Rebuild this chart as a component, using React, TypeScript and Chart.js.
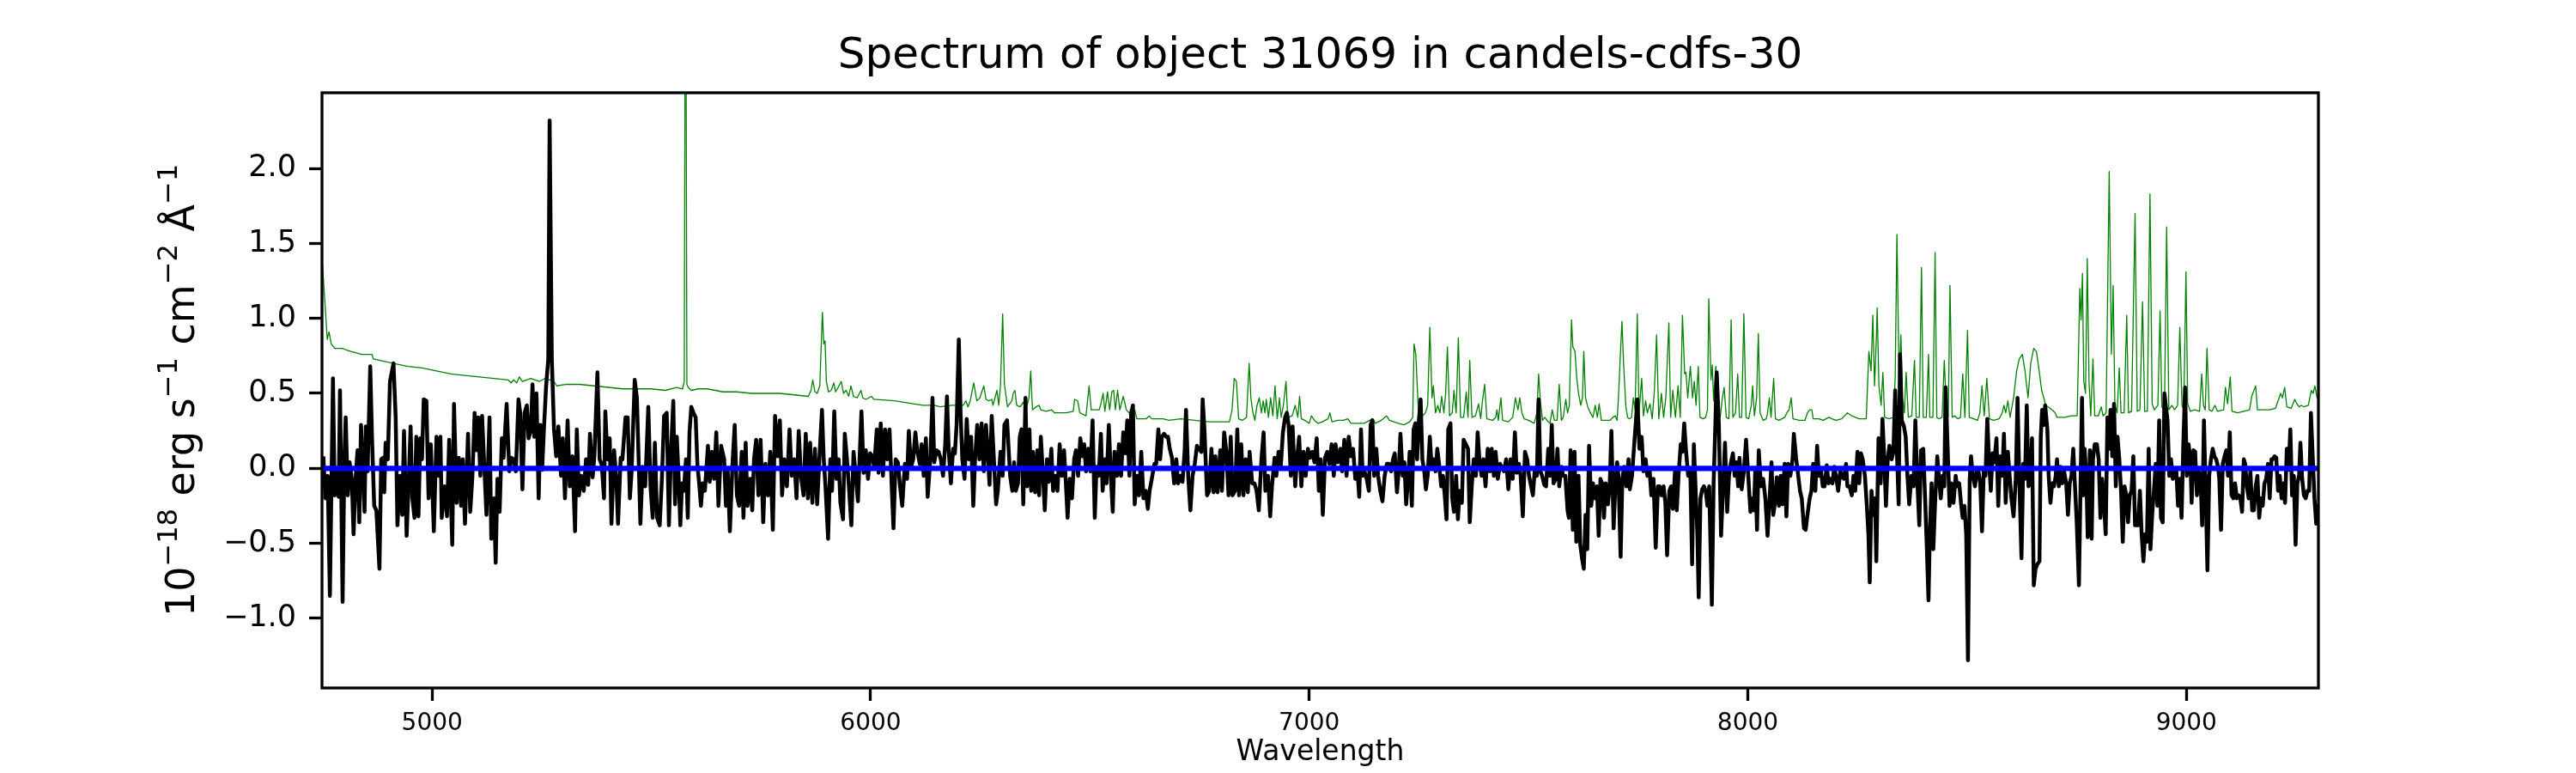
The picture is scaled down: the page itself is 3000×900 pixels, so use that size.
import React, { useEffect, useRef } from 'react';
import { Chart, registerables } from 'chart.js';

Chart.register(...registerables);

const FONT = "'DejaVu Sans', 'Liberation Sans', sans-serif";

const TITLE = 'Spectrum of object 31069 in candels-cdfs-30';
const X_LABEL = 'Wavelength';
// y label as (text, isSuperscript) runs: 10^-18 erg s^-1 cm^-2 Å^-1
const Y_LABEL_PARTS: [string, boolean][] = [
  ['10', false], ['\u221218', true], [' erg s', false], ['\u22121', true],
  [' cm', false], ['\u22122', true], [' \u00C5', false], ['\u22121', true],
];

const X_MIN = 4749;
const X_MAX = 9301;
const Y_MIN = -1.465;
const Y_MAX = 2.505;

const X_TICKS = [5000, 6000, 7000, 8000, 9000];
const Y_TICKS = [-1.0, -0.5, 0.0, 0.5, 1.0, 1.5, 2.0];

// Observed flux (black), [wavelength, flux]
const fluxBlue: [number, number][] = [
  [4752,0.08],[4757,-0.20],[4762,-0.05],[4767,-0.85],[4774,0.60],[4778,-0.18],[4783,-0.02],[4787,-0.19],[4790,0.52],[4796,-0.89],
  [4800,0.06],[4803,0.34],[4808,-0.18],[4812,0.04],[4817,-0.07],[4821,-0.44],[4826,-0.05],[4830,0.12],[4834,-0.36],[4838,0.29],
  [4842,-0.01],[4846,-0.29],[4849,0.28],[4853,-0.02],[4859,0.68],[4863,0.21],[4868,-0.25],[4873,-0.28],[4880,-0.67],[4884,0.06],
  [4888,0.07],[4891,-0.16],[4894,0.17],[4899,0.06],[4904,0.58],[4912,0.70],[4917,0.34],[4921,-0.38],[4927,-0.05],[4932,-0.31],
  [4936,0.25],[4942,-0.45],[4947,-0.07],[4951,0.28],[4955,-0.20],[4960,-0.33],[4964,0.21],[4969,-0.32],[4973,0.20],[4977,0.06],
  [4981,0.46],[4987,0.45],[4992,-0.20],[4997,0.16],[5004,-0.42],[5010,0.21],[5015,-0.05],[5019,0.21],[5022,-0.33],[5028,-0.12],
  [5034,-0.32],[5039,0.19],[5046,-0.51],[5050,0.43],[5056,-0.23],[5061,0.07],[5066,-0.25],[5070,0.06],[5075,-0.37],[5082,0.23],
  [5087,-0.29],[5092,-0.05],[5097,0.37],[5101,0.12],[5105,0.34],[5110,-0.05],[5114,0.35],[5120,-0.05],[5124,-0.31],[5131,0.34],
  [5135,-0.47],[5141,-0.20],[5145,-0.63],[5149,-0.07],[5154,-0.29],[5159,0.20],[5163,0.07],[5170,0.43],[5176,-0.02],[5181,0.07],
  [5186,0.06],[5191,-0.02],[5197,0.46],[5201,0.37],[5206,-0.14],[5211,0.37],[5216,0.42],[5220,0.20],[5225,0.25],[5229,0.56],
  [5233,0.21],[5238,0.50],[5243,-0.20],[5247,0.29],[5251,-0.01],[5255,0.26],[5260,0.55],[5265,0.73],[5268,2.32],[5273,0.73],
  [5278,0.26],[5283,0.08],[5288,0.28],[5294,-0.05],[5298,0.20],[5303,-0.20],[5309,0.32],[5314,-0.12],[5320,0.08],[5326,-0.42],
  [5330,0.26],[5335,-0.18],[5340,-0.05],[5346,-0.15],[5351,0.06],[5356,-0.11],[5360,0.23],[5366,-0.06],[5370,0.08],[5377,0.64],
  [5382,0.06],[5387,0.02],[5392,-0.20],[5395,0.38],[5400,0.06],[5405,0.20],[5409,-0.37],[5415,0.12],[5420,-0.07],[5424,-0.37],
  [5430,0.07],[5434,0.06],[5441,0.34],[5446,0.34],[5451,-0.20],[5455,-0.02],[5462,0.59],[5467,0.47],[5471,0.06],[5475,-0.37],
  [5480,0.01],[5486,-0.12],[5493,0.41],[5498,-0.12],[5503,-0.33],[5508,0.17],[5513,-0.33],[5519,-0.38],[5524,-0.07],[5529,0.35],
];

const fluxGreenYellow: [number, number][] = [
  [5535,0.37],[5540,-0.38],[5545,0.13],[5550,0.45],[5554,-0.24],[5558,0.21],[5562,-0.05],[5566,-0.38],[5570,-0.10],[5574,-0.15],
  [5579,0.06],[5583,-0.33],[5587,0.24],[5591,0.41],[5596,0.37],[5601,0.34],[5605,0.02],[5609,-0.10],[5613,-0.25],[5617,-0.10],
  [5622,-0.15],[5629,0.15],[5633,-0.09],[5638,0.11],[5643,-0.07],[5648,0.24],[5653,-0.25],[5659,0.15],[5666,0.06],[5670,-0.25],
  [5674,-0.02],[5679,-0.42],[5685,0.03],[5690,0.29],[5695,-0.18],[5700,-0.25],[5706,0.11],[5710,-0.33],[5715,0.17],[5719,-0.25],
  [5725,-0.07],[5730,-0.28],[5734,0.06],[5739,0.19],[5744,-0.18],[5749,0.19],[5755,-0.36],[5760,0.03],[5766,-0.18],[5771,0.11],
  [5777,-0.41],[5782,0.35],[5788,0.08],[5793,0.32],[5798,-0.18],[5803,0.06],[5809,-0.12],[5815,0.26],[5820,-0.05],[5826,0.06],
  [5831,-0.20],[5836,0.25],[5841,-0.05],[5847,-0.18],[5852,0.23],[5857,-0.20],[5862,0.17],[5867,-0.23],[5873,0.13],[5878,-0.24],
  [5883,0.06],[5889,0.39],[5893,0.06],[5897,-0.12],[5903,-0.47],[5908,0.06],[5912,-0.15],[5917,0.38],[5922,-0.07],[5927,0.06],
  [5931,-0.23],[5937,-0.34],[5941,0.23],[5946,0.06],[5951,-0.15],[5956,-0.38],[5961,0.11],[5966,-0.05],[5971,-0.22],[5979,0.38],
  [5984,-0.03],[5989,0.12],[5994,-0.07],[5999,0.10],[6004,0.08],[6008,0.01],[6014,0.26],[6018,-0.03],[6023,0.30],[6028,-0.05],
  [6033,0.26],[6038,0.06],[6043,0.26],[6048,-0.12],[6052,-0.40],[6057,0.06],[6062,0.04],[6067,-0.12],[6072,-0.25],[6078,0.03],
  [6083,-0.07],[6087,0.25],[6092,0.01],[6097,0.06],[6102,0.24],[6106,0.12],[6112,0.03],[6116,0.16],[6121,-0.05],[6126,0.20],
  [6130,-0.19],[6136,0.06],[6141,0.47],[6145,0.04],[6150,0.12],[6155,0.11],[6160,0.06],[6165,-0.05],[6170,0.16],[6174,0.48],
  [6178,0.12],[6183,-0.10],[6188,0.13],[6192,0.10],[6196,0.29],[6201,0.86],[6205,0.37],[6209,0.06],[6214,-0.07],[6219,0.33],
  [6224,0.06],[6229,0.21],[6234,-0.25],[6238,0.06],[6243,0.29],[6248,0.06],[6253,0.30],[6258,-0.02],[6263,0.29],[6267,0.11],
  [6271,-0.11],[6276,0.35],[6281,0.06],[6286,-0.24],[6290,-0.15],[6296,0.11],[6301,-0.05],[6305,0.29],[6311,0.32],
];

const fluxRed: [number, number][] = [
  [6318,-0.05],[6323,-0.15],[6327,0.04],[6331,-0.15],[6336,-0.10],[6340,0.21],[6344,0.26],[6348,-0.24],[6353,0.47],[6357,-0.12],
  [6362,0.26],[6366,-0.15],[6370,0.11],[6375,-0.16],[6380,0.12],[6384,-0.18],[6388,0.21],[6393,-0.05],[6397,-0.28],[6402,0.06],
  [6406,-0.09],[6412,0.13],[6416,-0.15],[6421,-0.05],[6426,-0.15],[6431,0.16],[6436,-0.05],[6441,0.12],[6446,-0.15],[6449,-0.33],
  [6454,-0.07],[6459,-0.20],[6464,0.06],[6468,0.12],[6473,-0.05],[6478,0.20],[6483,0.08],[6487,0.16],[6491,-0.02],[6496,0.13],
  [6501,-0.02],[6506,0.32],[6511,-0.33],[6515,0.01],[6520,-0.05],[6525,0.23],[6529,-0.15],[6534,0.06],[6538,-0.10],[6543,0.29],
  [6548,-0.07],[6552,-0.29],[6556,0.11],[6562,-0.05],[6566,0.16],[6571,-0.05],[6576,0.24],[6581,0.10],[6585,0.32],[6590,-0.05],
  [6594,0.37],[6598,0.42],[6602,-0.24],[6607,-0.05],[6612,-0.18],[6617,0.11],[6622,-0.20],[6627,-0.15],[6632,-0.27],[6636,-0.15],
  [6641,-0.07],[6647,0.03],[6651,0.03],[6656,0.26],[6660,0.06],[6664,0.21],[6669,0.23],[6674,0.21],[6678,0.21],[6682,0.13],
  [6687,0.07],[6692,-0.10],[6697,0.06],[6701,-0.10],[6707,-0.05],[6711,-0.09],[6716,0.12],[6719,0.39],[6724,-0.05],[6729,-0.28],
  [6734,-0.05],[6739,0.03],[6744,0.15],[6749,0.13],[6754,0.11],[6757,0.46],[6761,0.26],[6767,-0.18],[6772,-0.15],[6777,0.13],
  [6782,-0.16],[6786,0.08],[6791,-0.16],[6797,0.12],[6801,-0.15],[6806,0.24],[6811,0.11],[6816,-0.18],[6821,0.21],[6825,-0.18],
  [6831,-0.15],[6836,0.26],[6840,-0.18],[6845,0.16],[6850,-0.18],[6855,0.06],[6860,-0.16],[6864,0.11],[6870,-0.10],[6875,-0.10],
  [6880,-0.15],[6885,-0.28],[6891,0.06],[6896,0.24],[6900,-0.15],[6906,-0.05],[6911,-0.32],[6915,-0.12],[6921,0.07],[6925,-0.05],
  [6930,0.11],[6935,0.01],[6940,0.24],[6945,0.34],[6949,0.37],[6953,0.29],[6958,-0.05],[6962,0.28],[6968,-0.12],[6972,0.06],
  [6977,0.21],[6982,-0.12],[6987,0.11],[6992,-0.05],[6997,0.13],[7002,0.07],[7007,0.11],[7012,0.04],[7017,0.20],[7022,-0.15],
  [7026,0.06],[7031,-0.31],[7036,0.07],[7041,0.11],[7046,0.03],[7051,0.16],[7056,-0.05],[7060,0.16],[7065,0.04],[7071,0.13],
  [7075,-0.02],[7080,0.19],[7085,-0.05],[7090,0.21],[7095,0.08],
];

const fluxNearIR: [number, number][] = [
  [7100,0.13],[7105,-0.07],[7110,-0.02],[7114,-0.19],[7118,0.26],[7122,-0.05],[7126,-0.02],[7131,-0.07],[7136,-0.15],[7140,0.29],
  [7144,0.32],[7148,-0.05],[7153,0.13],[7157,-0.05],[7162,-0.15],[7167,-0.22],[7172,-0.05],[7177,0.03],[7182,0.03],[7187,-0.02],
  [7191,0.06],[7195,0.10],[7200,-0.16],[7204,-0.02],[7208,0.23],[7213,-0.05],[7217,0.04],[7221,-0.24],[7226,-0.05],[7229,0.11],
  [7234,-0.25],[7238,0.26],[7242,0.30],[7246,0.06],[7250,0.32],[7254,0.46],[7258,0.06],[7262,-0.01],[7266,-0.14],[7270,-0.05],
  [7275,0.21],[7279,0.01],[7283,0.06],[7288,-0.02],[7292,0.13],[7296,0.03],[7301,-0.12],[7305,-0.05],[7309,-0.18],[7313,-0.34],
  [7317,0.26],[7322,0.30],[7326,-0.20],[7330,-0.29],[7335,-0.05],[7339,-0.34],[7343,-0.15],[7348,-0.23],[7352,0.19],[7357,0.16],
  [7362,0.13],[7366,-0.36],[7371,-0.10],[7375,0.06],[7380,-0.05],[7384,0.24],[7388,0.06],[7393,-0.05],[7397,0.06],[7402,-0.12],
  [7407,0.13],[7412,-0.02],[7416,0.13],[7421,-0.05],[7425,0.11],[7430,-0.07],[7435,0.03],[7439,0.01],[7444,-0.02],[7449,0.06],
  [7454,-0.14],[7459,0.06],[7464,-0.07],[7469,0.24],[7473,-0.03],[7478,0.03],[7482,-0.05],[7487,-0.32],[7492,0.11],[7497,0.06],
  [7501,-0.05],[7506,-0.12],[7510,-0.18],[7514,-0.02],[7519,-0.05],[7523,0.46],[7527,-0.02],[7531,-0.05],[7536,-0.11],[7540,-0.12],
  [7545,0.13],[7549,-0.05],[7553,0.29],[7557,-0.10],[7562,-0.07],[7566,0.13],[7570,-0.12],[7575,0.01],[7579,-0.05],[7584,-0.05],
  [7589,-0.28],[7592,-0.33],[7596,0.12],[7601,-0.41],[7605,0.11],[7609,-0.49],[7614,-0.05],[7618,-0.51],[7622,-0.60],[7626,-0.67],
  [7630,-0.31],[7634,-0.54],[7638,0.15],[7643,-0.25],[7647,-0.10],[7652,-0.20],[7656,-0.12],[7660,-0.45],[7664,-0.07],[7668,-0.10],
  [7672,-0.33],[7676,-0.10],[7681,-0.24],[7685,-0.12],[7689,0.25],[7694,-0.40],[7698,-0.11],[7702,0.04],[7705,-0.05],[7710,-0.59],
  [7714,-0.07],[7718,0.01],[7723,-0.12],[7728,0.06],[7731,-0.14],[7736,-0.05],[7741,0.16],[7745,0.32],[7748,0.46],[7753,0.13],
  [7758,0.21],[7762,-0.02],[7767,0.06],[7771,-0.05],[7776,-0.01],[7780,-0.18],[7785,-0.07],[7790,-0.53],[7795,-0.12],[7799,-0.12],
  [7803,-0.18],[7808,-0.12],[7812,-0.23],[7816,-0.58],[7821,-0.15],[7825,-0.12],[7829,-0.27],[7834,-0.02],[7838,-0.28],[7842,-0.05],
  [7847,0.16],[7851,0.11],[7855,0.30],[7859,0.12],[7864,-0.05],[7869,-0.02],[7873,-0.64],[7877,0.16],
];

const fluxIR: [number, number][] = [
  [7885,-0.44],[7888,-0.86],[7892,-0.20],[7896,-0.14],[7900,-0.12],[7904,-0.15],[7908,-0.25],[7912,-0.12],[7918,-0.91],[7922,-0.10],
  [7926,0.29],[7929,0.64],[7934,0.29],[7939,-0.45],[7944,-0.10],[7948,0.17],[7953,-0.29],[7957,-0.05],[7961,0.03],[7966,0.10],
  [7970,-0.05],[7974,0.04],[7978,-0.12],[7981,0.07],[7986,-0.14],[7991,-0.02],[7996,0.19],[8001,-0.05],[8006,-0.29],[8010,-0.20],
  [8014,-0.28],[8017,-0.01],[8021,-0.41],[8025,0.12],[8030,-0.12],[8035,-0.07],[8040,-0.20],[8045,-0.45],[8049,-0.24],[8054,0.04],
  [8058,-0.31],[8062,-0.23],[8066,-0.06],[8071,-0.25],[8075,-0.05],[8079,-0.24],[8084,0.03],[8088,-0.32],[8092,0.03],[8097,-0.05],
  [8102,0.06],[8105,0.23],[8110,0.07],[8115,-0.05],[8119,-0.15],[8123,-0.20],[8128,-0.40],[8132,-0.41],[8136,-0.31],[8141,-0.20],
  [8145,-0.15],[8149,0.03],[8154,-0.15],[8158,0.15],[8162,-0.05],[8167,-0.02],[8171,-0.12],[8175,-0.12],[8180,0.02],[8184,-0.10],
  [8188,-0.07],[8193,-0.10],[8197,0.01],[8201,-0.05],[8206,-0.15],[8211,-0.02],[8214,-0.05],[8219,-0.07],[8224,0.03],[8227,-0.12],
  [8232,-0.12],[8237,-0.18],[8241,-0.05],[8245,-0.15],[8250,0.11],[8254,-0.10],[8258,0.10],[8262,0.06],[8267,-0.05],[8271,-0.23],
  [8275,-0.44],[8278,-0.76],[8282,-0.15],[8286,-0.31],[8290,-0.20],[8293,-0.62],[8298,0.20],[8303,-0.10],[8307,0.33],[8311,0.08],
  [8315,-0.25],[8319,0.06],[8323,0.15],[8328,0.06],[8332,0.11],[8336,0.52],[8340,0.11],[8344,-0.24],[8347,0.76],[8351,0.32],
  [8356,0.28],[8360,0.21],[8364,-0.05],[8368,-0.24],[8373,-0.05],[8378,-0.12],[8382,0.32],[8386,-0.05],[8391,-0.38],[8395,0.12],
  [8400,0.13],[8404,-0.18],[8408,-0.51],[8412,-0.88],[8415,-0.44],[8419,-0.10],[8423,-0.54],[8427,-0.23],[8432,0.08],[8436,-0.07],
  [8440,-0.20],[8444,-0.05],[8448,-0.12],[8451,0.54],[8456,0.10],[8460,-0.25],[8464,-0.10],[8469,-0.23],[8474,-0.05],[8477,-0.12],
  [8482,-0.10],[8486,-0.23],[8490,-0.33],[8494,-0.25],[8498,-0.44],[8502,-1.28],[8506,-0.07],[8509,0.08],[8513,-0.05],[8518,-0.12],
  [8522,-0.02],[8526,-0.02],[8530,-0.10],[8534,-0.42],[8538,-0.01],[8542,-0.05],[8546,0.33],[8550,0.06],[8554,-0.15],[8558,0.10],
  [8562,0.04],[8567,0.20],[8571,-0.25],[8575,0.08],[8580,-0.05],[8584,0.23],[8588,-0.23],[8593,0.11],[8597,-0.05],[8601,-0.20],
  [8606,-0.32],[8611,-0.07],[8615,0.47],[8619,-0.07],[8624,-0.60],[8628,0.03],[8632,-0.07],[8636,0.42],[8640,-0.12],[8644,-0.10],
  [8648,0.20],[8652,-0.78],[8656,-0.67],[8660,-0.64],
];

const fluxRedEnd: [number, number][] = [
  [8665,-0.62],[8668,0.21],[8671,0.39],[8675,0.29],[8678,0.42],[8683,0.26],[8686,-0.05],[8690,-0.23],[8694,-0.10],[8698,-0.12],
  [8702,-0.05],[8705,0.06],[8709,-0.12],[8713,0.01],[8717,-0.10],[8721,-0.02],[8726,-0.10],[8730,-0.31],[8734,-0.10],[8738,-0.05],
  [8742,0.13],[8746,-0.12],[8750,-0.36],[8755,-0.78],[8759,-0.05],[8762,0.47],[8765,-0.18],[8768,0.13],[8772,-0.07],[8775,-0.46],
  [8780,0.12],[8784,-0.47],[8787,0.06],[8791,0.16],[8796,0.16],[8800,0.06],[8804,-0.33],[8808,-0.07],[8812,-0.23],[8816,-0.44],
  [8820,0.34],[8824,0.13],[8827,0.39],[8831,0.08],[8835,0.43],[8839,-0.12],[8843,0.21],[8847,0.06],[8851,-0.15],[8855,-0.49],
  [8859,-0.12],[8863,-0.18],[8867,-0.36],[8871,-0.18],[8875,-0.15],[8879,0.08],[8883,-0.38],[8887,-0.38],[8890,-0.38],[8894,-0.15],
  [8898,-0.44],[8902,-0.62],[8906,-0.44],[8910,-0.49],[8914,0.13],[8918,-0.54],[8922,-0.31],[8926,-0.15],[8930,0.03],[8934,-0.25],
  [8938,0.32],[8942,-0.33],[8946,-0.36],[8950,0.50],[8953,0.42],[8957,0.32],[8961,-0.05],[8965,0.06],[8969,-0.07],[8973,-0.05],
  [8977,-0.01],[8981,-0.25],[8985,-0.07],[8989,-0.33],[8993,0.16],[8997,0.54],[9001,-0.05],[9005,0.16],[9009,0.06],[9012,-0.23],
  [9016,0.12],[9020,0.11],[9024,-0.18],[9028,-0.02],[9032,-0.05],[9036,-0.38],[9040,0.32],[9044,-0.15],[9048,-0.68],[9052,-0.05],
  [9056,0.06],[9060,0.13],[9064,0.08],[9068,0.06],[9072,0.01],[9075,-0.07],[9079,-0.41],[9083,0.03],[9087,0.08],[9091,0.12],
  [9095,-0.05],[9099,0.24],[9103,-0.18],[9107,-0.20],[9111,-0.10],[9115,-0.20],[9119,-0.18],[9123,-0.20],[9127,-0.29],[9131,0.06],
  [9134,0.03],[9138,-0.12],[9142,-0.20],[9146,-0.02],[9150,-0.28],[9154,-0.28],[9158,-0.12],[9162,-0.05],[9166,-0.33],[9170,-0.20],
  [9174,-0.25],[9178,-0.10],[9182,-0.07],[9186,0.03],[9190,-0.20],[9194,0.06],[9197,0.06],[9201,0.08],[9205,0.07],[9209,-0.15],
  [9213,-0.05],[9217,-0.20],[9221,-0.10],[9225,-0.23],[9229,0.13],[9233,-0.01],[9237,0.26],[9241,-0.18],[9245,-0.05],[9249,-0.51],
  [9253,-0.10],[9257,-0.05],[9260,0.17],[9264,-0.07],[9268,-0.18],[9272,-0.20],[9276,-0.15],[9280,-0.15],[9284,0.37],[9288,0.08],
  [9292,-0.20],[9296,-0.37],[9300,-0.24],
];

// Noise / sky spectrum (green), [wavelength, value]
const noiseBlue: [number, number][] = [
  [4750,1.36],[4756,1.09],[4761,0.86],[4765,0.91],[4770,0.83],[4778,0.80],[4795,0.80],[4814,0.78],[4840,0.76],[4863,0.76],
  [4866,0.73],[4912,0.70],[4945,0.68],[4977,0.67],[5010,0.65],[5043,0.63],[5075,0.62],[5108,0.61],[5141,0.60],[5173,0.59],
  [5180,0.57],[5186,0.59],[5193,0.57],[5199,0.61],[5206,0.58],[5225,0.60],[5245,0.58],[5258,0.60],[5278,0.58],[5284,0.55],
  [5304,0.56],[5336,0.56],[5369,0.55],[5402,0.54],[5434,0.53],[5467,0.53],[5499,0.53],[5532,0.52],
];

const noiseGreenYellow: [number, number][] = [
  [5558,0.54],[5571,0.53],[5575,0.58],[5577,3.0],[5579,3.0],[5581,0.56],[5584,0.54],[5591,0.52],[5607,0.53],[5627,0.53],
  [5646,0.52],[5663,0.51],[5695,0.51],[5728,0.50],[5767,0.50],[5793,0.50],[5826,0.49],[5858,0.48],[5864,0.52],[5868,0.59],
  [5873,0.51],[5878,0.50],[5884,0.55],[5890,1.04],[5893,0.83],[5896,0.85],[5899,0.58],[5904,0.51],[5910,0.52],[5916,0.57],
  [5920,0.51],[5926,0.54],[5933,0.58],[5938,0.50],[5944,0.52],[5950,0.48],[5955,0.55],[5961,0.48],[5969,0.47],[5978,0.52],
  [5982,0.47],[5989,0.46],[6002,0.48],[6007,0.46],[6054,0.45],[6119,0.42],[6145,0.42],[6158,0.41],[6185,0.42],[6211,0.42],
  [6217,0.45],[6222,0.41],[6227,0.45],[6235,0.57],[6242,0.45],[6249,0.47],[6258,0.55],[6263,0.46],[6269,0.45],[6276,0.46],
  [6279,0.42],[6288,0.52],[6292,0.42],[6296,0.55],[6301,1.03],[6305,0.56],[6312,0.41],
];

const noiseRed: [number, number][] = [
  [6322,0.45],[6325,0.50],[6329,0.52],[6333,0.42],[6341,0.41],[6348,0.44],[6354,0.39],[6361,0.47],[6365,0.65],[6369,0.39],
  [6377,0.41],[6384,0.42],[6388,0.39],[6400,0.38],[6413,0.39],[6419,0.37],[6446,0.37],[6462,0.38],[6465,0.46],[6472,0.45],
  [6477,0.37],[6491,0.35],[6498,0.55],[6503,0.39],[6511,0.39],[6521,0.39],[6525,0.43],[6530,0.50],[6534,0.38],[6540,0.51],
  [6545,0.39],[6550,0.51],[6554,0.52],[6558,0.39],[6563,0.52],[6568,0.39],[6576,0.48],[6583,0.39],[6589,0.37],[6602,0.39],
  [6607,0.33],[6628,0.33],[6635,0.35],[6641,0.33],[6667,0.33],[6680,0.32],[6707,0.33],[6739,0.32],[6772,0.31],[6818,0.31],
  [6824,0.39],[6829,0.60],[6834,0.58],[6839,0.33],[6847,0.32],[6857,0.34],[6863,0.70],[6867,0.47],[6871,0.38],[6876,0.32],
  [6881,0.42],[6886,0.47],[6891,0.37],[6895,0.45],[6899,0.37],[6902,0.46],[6907,0.34],[6912,0.47],[6917,0.35],[6922,0.55],
  [6927,0.33],[6932,0.47],[6936,0.34],[6941,0.42],[6947,0.58],[6951,0.34],[6961,0.35],[6968,0.42],[6974,0.34],[6978,0.48],
  [6982,0.33],[6990,0.32],[7000,0.30],[7005,0.35],[7012,0.32],[7020,0.30],[7030,0.31],[7036,0.32],[7043,0.33],[7047,0.37],
  [7052,0.31],[7065,0.32],[7078,0.32],[7088,0.33],[7095,0.30],
];

const noiseNearIR: [number, number][] = [
  [7125,0.30],[7138,0.32],[7144,0.33],[7151,0.30],[7164,0.32],[7176,0.35],[7183,0.32],[7203,0.30],[7216,0.29],[7229,0.31],
  [7236,0.34],[7239,0.83],[7243,0.76],[7249,0.37],[7255,0.34],[7265,0.37],[7270,0.42],[7275,0.94],[7280,0.47],[7283,0.55],
  [7288,0.37],[7293,0.42],[7298,0.37],[7302,0.48],[7307,0.37],[7311,0.50],[7315,0.81],[7320,0.35],[7326,0.37],[7330,0.52],
  [7335,0.37],[7340,0.87],[7345,0.34],[7352,0.34],[7358,0.51],[7362,0.34],[7366,0.72],[7371,0.34],[7379,0.35],[7386,0.43],
  [7391,0.33],[7395,0.45],[7400,0.56],[7405,0.33],[7418,0.32],[7425,0.34],[7428,0.39],[7431,0.32],[7437,0.47],[7441,0.32],
  [7454,0.31],[7464,0.34],[7470,0.47],[7476,0.39],[7480,0.47],[7485,0.37],[7490,0.33],[7500,0.32],[7513,0.30],[7519,0.37],
  [7523,0.63],[7527,0.45],[7532,0.32],[7537,0.34],[7542,0.32],[7549,0.30],[7554,0.39],[7559,0.32],[7565,0.32],[7570,0.56],
  [7575,0.32],[7579,0.34],[7585,0.46],[7589,0.37],[7593,0.42],[7598,0.99],[7601,0.81],[7606,0.78],[7610,0.60],[7614,0.50],
  [7619,0.42],[7623,0.47],[7626,0.78],[7630,0.47],[7635,0.41],[7641,0.37],[7647,0.34],[7652,0.42],[7657,0.34],[7661,0.43],
  [7666,0.32],[7686,0.32],[7692,0.34],[7698,0.35],[7702,0.32],[7705,0.47],[7709,0.73],[7713,0.98],[7717,0.68],[7722,0.41],
  [7726,0.34],[7730,0.33],[7735,0.34],[7739,0.47],[7743,0.39],[7748,1.03],[7752,0.37],[7758,0.60],[7762,0.35],[7767,0.45],
  [7771,0.37],[7777,0.43],[7782,0.33],[7787,0.52],[7792,0.89],[7797,0.33],[7803,0.50],[7808,0.34],[7813,0.47],[7820,0.97],
  [7824,0.34],[7829,0.52],[7835,0.34],[7841,0.55],[7846,0.34],[7851,1.02],[7856,0.63],[7859,0.64],[7863,0.47],[7869,0.68],
  [7874,0.47],[7878,0.58],
];

const noiseIR: [number, number][] = [
  [7882,0.42],[7887,0.68],[7891,0.34],[7898,0.33],[7904,0.34],[7908,0.39],[7911,1.13],[7916,0.59],[7919,0.69],[7922,0.45],
  [7927,0.68],[7933,0.38],[7937,0.34],[7942,0.47],[7946,0.54],[7951,0.34],[7957,0.33],[7962,0.99],[7966,0.34],[7972,0.37],
  [7977,0.63],[7981,0.34],[7986,0.34],[7991,1.03],[7996,0.34],[8002,0.33],[8008,0.42],[8011,0.55],[8015,0.35],[8020,0.47],
  [8024,0.90],[8028,0.37],[8035,0.32],[8042,0.33],[8045,0.37],[8049,0.47],[8053,0.34],[8059,0.60],[8063,0.33],[8071,0.32],
  [8084,0.34],[8089,0.37],[8094,0.39],[8099,0.47],[8103,0.33],[8117,0.32],[8130,0.32],[8136,0.37],[8141,0.39],[8146,0.39],
  [8149,0.33],[8162,0.33],[8172,0.32],[8185,0.34],[8192,0.33],[8201,0.32],[8214,0.33],[8227,0.37],[8237,0.35],[8254,0.33],
  [8270,0.33],[8276,0.78],[8281,0.65],[8285,1.02],[8289,0.55],[8293,0.86],[8295,1.07],[8299,0.55],[8304,0.42],[8308,0.64],
  [8312,0.34],[8322,0.33],[8332,0.34],[8336,0.60],[8340,1.56],[8345,0.58],[8349,0.89],[8353,0.47],[8357,0.37],[8361,0.64],
  [8366,0.34],[8374,0.35],[8380,0.72],[8384,0.34],[8391,0.34],[8396,1.34],[8400,0.34],[8407,0.34],[8412,0.76],[8415,0.34],
  [8422,0.34],[8427,1.44],[8431,0.34],[8436,0.33],[8443,0.34],[8448,0.72],[8453,0.37],[8457,0.34],[8461,1.22],[8466,0.34],
  [8472,0.35],[8479,0.33],[8485,0.34],[8490,0.63],[8495,0.34],[8501,0.92],[8505,0.34],[8515,0.33],[8524,0.32],[8529,0.37],
  [8534,0.55],[8539,0.35],[8545,0.60],[8551,0.33],[8560,0.32],[8573,0.33],[8580,0.37],[8584,0.42],[8588,0.37],[8593,0.45],
  [8598,0.34],[8606,0.47],[8613,0.65],[8619,0.73],[8626,0.76],[8632,0.65],[8639,0.47],[8645,0.70],[8652,0.80],[8658,0.78],
  [8663,0.68],
];

const noiseRedEnd: [number, number][] = [
  [8670,0.52],[8675,0.47],[8679,0.42],[8685,0.41],[8694,0.39],[8701,0.37],[8705,0.34],[8714,0.34],[8723,0.34],[8737,0.35],
  [8751,0.35],[8757,1.20],[8760,0.99],[8763,1.30],[8766,0.58],[8770,0.50],[8774,1.40],[8778,0.58],[8782,0.35],[8787,0.73],
  [8791,0.35],[8799,0.35],[8806,0.41],[8810,0.35],[8817,0.37],[8824,1.98],[8829,0.76],[8833,1.22],[8837,0.42],[8842,0.37],
  [8847,0.67],[8851,0.37],[8858,0.37],[8864,1.02],[8868,0.37],[8875,0.38],[8883,1.70],[8888,0.38],[8894,0.39],[8900,1.11],
  [8905,0.38],[8911,0.38],[8917,1.83],[8922,0.43],[8927,0.39],[8935,0.42],[8940,1.05],[8944,0.41],[8950,0.38],[8955,1.61],
  [8960,0.39],[8967,0.42],[8973,0.39],[8980,0.42],[8985,0.94],[8990,0.42],[8994,0.39],[8999,1.31],[9003,0.43],[9009,0.38],
  [9019,0.39],[9030,0.38],[9035,0.63],[9039,0.42],[9043,0.39],[9047,0.80],[9052,0.39],[9058,0.38],[9065,0.42],[9071,0.38],
  [9085,0.39],[9089,0.54],[9094,0.43],[9100,0.61],[9104,0.38],[9117,0.37],[9131,0.38],[9144,0.39],[9149,0.48],[9154,0.52],
  [9158,0.55],[9162,0.39],[9177,0.39],[9190,0.39],[9203,0.40],[9209,0.45],[9215,0.50],[9219,0.47],[9224,0.54],[9229,0.41],
  [9239,0.40],[9247,0.46],[9252,0.43],[9257,0.41],[9262,0.42],[9268,0.41],[9278,0.42],[9285,0.52],[9289,0.50],[9293,0.55],
  [9298,0.47],[9301,0.47],
];

// Zero level (blue)
const zeroLevel: [number, number][] = [[X_MIN, 0], [X_MAX, 0]];

const fluxPoints = [...fluxBlue, ...fluxGreenYellow, ...fluxRed, ...fluxNearIR, ...fluxIR, ...fluxRedEnd];
const noisePoints = [...noiseBlue, ...noiseGreenYellow, ...noiseRed, ...noiseNearIR, ...noiseIR, ...noiseRedEnd];

const toXY = (pts: [number, number][]) => pts.map(([x, y]) => ({ x, y }));

const framePlugin = {
  id: 'axesFrame',
  afterDatasetsDraw(chart: any) {
    const { ctx, chartArea } = chart;
    const { left, top, right, bottom } = chartArea;
    ctx.save();
    ctx.strokeStyle = '#000000';
    ctx.lineWidth = 3.3;
    ctx.strokeRect(left, top, right - left, bottom - top);
    ctx.restore();
  },
};

// y-axis label with real superscripts (rotated, centred on the plot area)
const BASE_SIZE = 46;
const SUP_SIZE = 32;
const SUP_RISE = 20;
const yLabelPlugin = {
  id: 'yLabelMath',
  afterDraw(chart: any) {
    const { ctx, chartArea } = chart;
    const cy = (chartArea.top + chartArea.bottom) / 2;
    const baseX = chartArea.left - 149;
    ctx.save();
    ctx.fillStyle = '#000000';
    ctx.textBaseline = 'alphabetic';
    ctx.textAlign = 'left';
    let total = 0;
    const widths = Y_LABEL_PARTS.map(([t, sup]) => {
      ctx.font = `${sup ? SUP_SIZE : BASE_SIZE}px ${FONT}`;
      const w = ctx.measureText(t).width;
      total += w;
      return w;
    });
    ctx.translate(baseX, cy);
    ctx.rotate(-Math.PI / 2);
    let x = -total / 2;
    Y_LABEL_PARTS.forEach(([t, sup], i) => {
      ctx.font = `${sup ? SUP_SIZE : BASE_SIZE}px ${FONT}`;
      ctx.fillText(t, x, sup ? -SUP_RISE : 0);
      x += widths[i];
    });
    ctx.restore();
  },
};

const fmtY = (v: number) => (v < 0 ? '\u2212' : '') + Math.abs(v).toFixed(1);

export default function App() {
  const canvasRef = useRef<HTMLCanvasElement | null>(null);

  useEffect(() => {
    document.body.style.margin = '0';
    const canvas = canvasRef.current;
    if (!canvas) return;
    Chart.defaults.font.family = FONT;
    Chart.defaults.color = '#000000';

    const chart = new Chart(canvas, {
      type: 'line',
      data: {
        datasets: [
          {
            label: 'zero',
            data: toXY(zeroLevel),
            borderColor: '#0000ff',
            borderWidth: 6.25,
            pointRadius: 0,
            tension: 0,
            order: 0,
          },
          {
            label: 'flux',
            data: toXY(fluxPoints),
            borderColor: '#000000',
            borderWidth: 4.5,
            pointRadius: 0,
            tension: 0,
            borderJoinStyle: 'round',
            order: 1,
          },
          {
            label: 'noise',
            data: toXY(noisePoints),
            borderColor: '#008000',
            borderWidth: 1.3,
            pointRadius: 0,
            tension: 0,
            borderJoinStyle: 'round',
            order: 2,
          },
        ] as any,
      },
      options: {
        animation: false,
        responsive: false,
        devicePixelRatio: 1,
        events: [],
        layout: { padding: { left: 0, right: 300, top: 0, bottom: 0 } },
        plugins: {
          legend: { display: false },
          tooltip: { enabled: false },
          title: {
            display: true,
            text: TITLE,
            fullSize: false,
            color: '#000000',
            font: { family: FONT, size: 50, weight: 'normal' as any, lineHeight: 1.2 },
            padding: { top: 36.5, bottom: 11.5 },
          },
        },
        scales: {
          x: {
            type: 'linear',
            min: X_MIN,
            max: X_MAX,
            afterBuildTicks: (s: any) => {
              s.ticks = X_TICKS.map((v) => ({ value: v }));
            },
            afterFit: (s: any) => {
              s.height = 99;
            },
            ticks: {
              autoSkip: false,
              maxRotation: 0,
              minRotation: 0,
              padding: 10,
              color: '#000000',
              font: { family: FONT, size: 28 },
              callback: (v: any) => String(v),
            },
            grid: {
              display: true,
              drawOnChartArea: false,
              drawTicks: true,
              tickLength: 15,
              tickWidth: 3.3,
              tickColor: '#000000',
            },
            border: { display: false },
            title: {
              display: true,
              text: X_LABEL,
              color: '#000000',
              font: { family: FONT, size: 33, lineHeight: 1.2 },
              padding: { top: 0, bottom: 4 },
            },
          },
          y: {
            type: 'linear',
            min: Y_MIN,
            max: Y_MAX,
            afterBuildTicks: (s: any) => {
              s.ticks = Y_TICKS.map((v) => ({ value: v }));
            },
            afterFit: (s: any) => {
              s.width = 375;
            },
            ticks: {
              autoSkip: false,
              padding: 15,
              color: '#000000',
              font: { family: FONT, size: 35 },
              callback: (v: any) => fmtY(Number(v)),
            },
            grid: {
              display: true,
              drawOnChartArea: false,
              drawTicks: true,
              tickLength: 15,
              tickWidth: 3.3,
              tickColor: '#000000',
            },
            border: { display: false },
            title: { display: false },
          },
        },
      },
      plugins: [framePlugin, yLabelPlugin],
    });

    return () => {
      chart.destroy();
    };
  }, []);

  return (
    <div style={{ width: 3000, height: 900, overflow: 'hidden', background: '#ffffff' }}>
      <canvas ref={canvasRef} width={3000} height={900} style={{ display: 'block', width: 3000, height: 900 }} />
    </div>
  );
}
